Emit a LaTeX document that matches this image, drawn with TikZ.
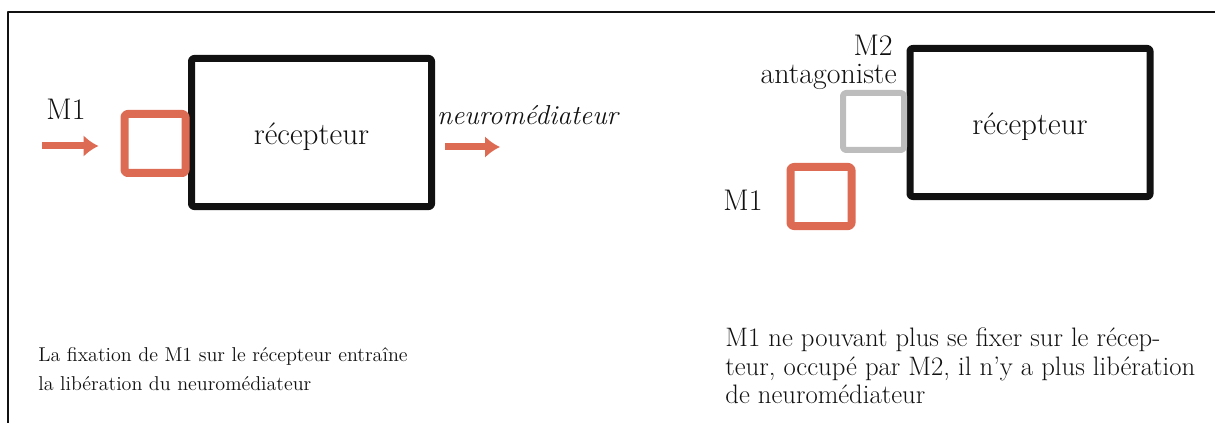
\documentclass[tikz,border=0pt]{standalone}
\usepackage{tikz}
\definecolor{ink}{HTML}{111111}
\definecolor{ligand}{HTML}{DD6A52}
\definecolor{blocked}{HTML}{BDBDBD}
\usetikzlibrary{
  arrows.meta,
  positioning
}
\tikzset{
  >=Latex,
  every picture/.style={line join=round},
  frame/.style={draw=ink, line width=0.4mm},
  receptor/.style={
    draw=ink,
    line width=1.4mm,
    rounded corners=0.5mm,
    minimum width=4.8cm,
    minimum height=2.96cm,
    inner sep=0pt,
    text height=1.6em,
    text depth=0.2em,
    font=\fontsize{17.7}{19}\selectfont,
    text=ink
  },
  agonist/.style={
    draw=ligand,
    line width=1.6mm,
    rounded corners=0.6mm,
    minimum width=1.22cm,
    minimum height=1.18cm,
    inner sep=0pt
  },
  antagonist/.style={agonist, draw=blocked, line width=1.2mm, minimum height=1.14cm},
  flow/.style={draw=ligand, line width=1.4mm, -{Latex[length=3mm, width=4.4mm]}},
  annot/.style={inner sep=0pt, font=\fontsize{17}{14.5}\selectfont, text=ink},
  note/.style={inner sep=0pt, align=left, text=ink}
}

\begin{document}
\begin{tikzpicture}
  \useasboundingbox (0,0) rectangle (24.3,-8.46);
  % Open frame round both panels
  \draw[frame] (0.16,-8.46) |- (24.3,-0.24);

  % Left panel: M1 binds, mediator released
  \node[receptor] (recL) at (6.23,-2.65) {récepteur};
  \node[agonist] (m1L) at (3.10,-2.87) {};
  \node[annot] (m1Ltxt) at (1.32,-2.18) {M1};
  \coordinate (inL) at (0.84,-2.92);
  \draw[flow, shorten >=0.44cm] (inL) -- (m1L.west |- inL);
  \node[annot, font=\fontsize{15.6}{12}\selectfont\itshape] (neuroL) at (10.55,-2.30) {neuromédiateur};
  \coordinate (outL) at (10.0,-2.94);
  \draw[flow, shorten <=0.2cm] (recL.east |- outL) -- (outL);

  % Right panel: site held by M2, M1 left outside
  \node[receptor] (recR) at (20.60,-2.45) {récepteur};
  \node[antagonist] (m2R) at (17.47,-2.43) {};
  \node[agonist] (m1R) at (16.42,-3.93) {};
  \node[annot] (m1Rtxt) at (14.86,-4.00) {M1};
  \node[annot, anchor=base east] (antTxt) at (17.94,-1.68) {antagoniste};
  \node[annot, anchor=south east] (m2Txt) at ([xshift=-0.08cm, yshift=0.18cm]antTxt.north east) {M2};

  % Captions
  \node[note, anchor=north west, font=\fontsize{11.4}{16}\selectfont] (capL) at (0.76,-6.95)
    {La fixation de M1 sur le récepteur entraîne\\la libération du neuromédiateur};
  \node[note, anchor=north west, font=\fontsize{15.2}{16.2}\selectfont] (capR) at (14.50,-6.55)
    {M1 ne pouvant plus se fixer sur le récep-\\teur, occupé par M2, il n'y a plus libération\\de neuromédiateur};
\end{tikzpicture}
\end{document}
